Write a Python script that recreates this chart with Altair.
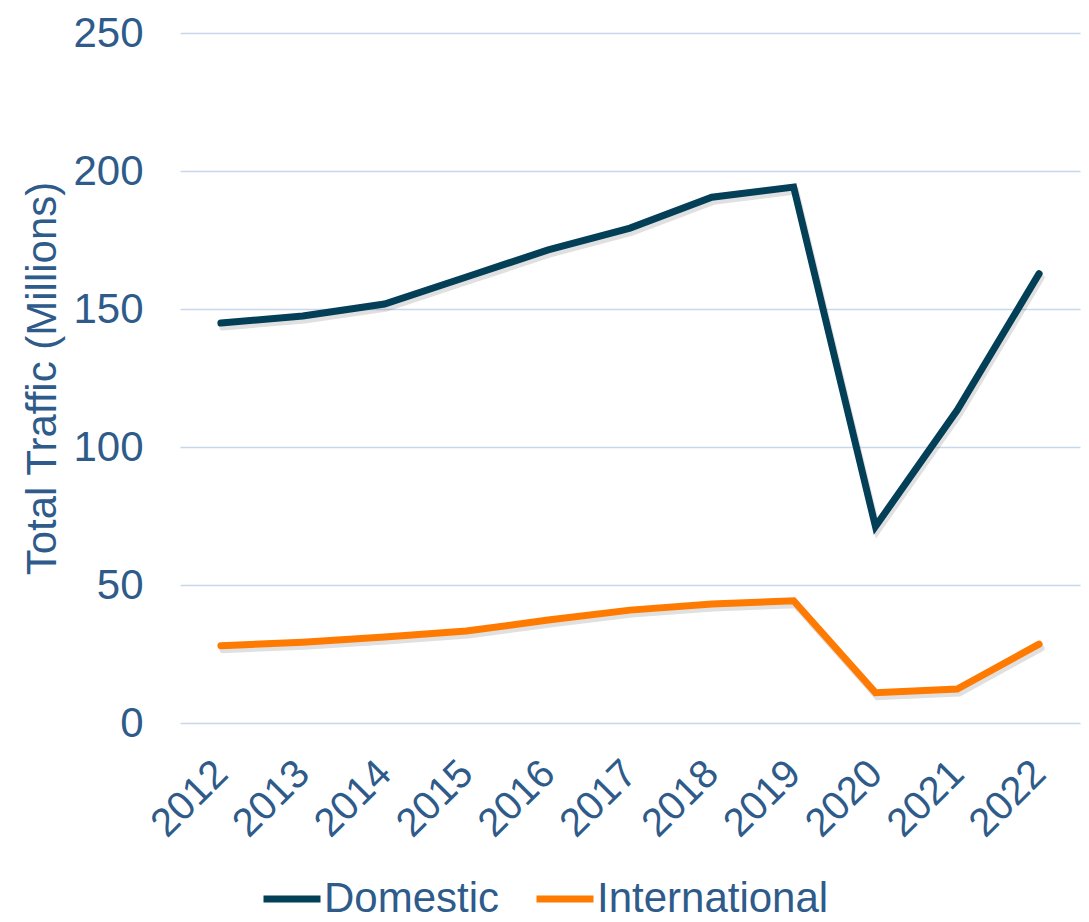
import altair as alt
import pandas as pd

years = ["2012", "2013", "2014", "2015", "2016", "2017", "2018", "2019", "2020", "2021", "2022"]
domestic = [144.9, 147.5, 151.8, 161.6, 171.4, 179.3, 190.5, 194.2, 71.2, 113.4, 162.8]
international = [28.0, 29.3, 31.2, 33.3, 37.3, 40.9, 43.1, 44.3, 11.0, 12.3, 28.6]
series = ["Domestic", "International"]
colors = ["#033F57", "#FF7A00"]

rows = []
for y, d, i in zip(years, domestic, international):
    rows.append({"Year": y, "Series": series[0], "Value": d})
    rows.append({"Year": y, "Series": series[1], "Value": i})
df = pd.DataFrame(rows)

FONT = "Liberation Sans"
TXT = "#2E5B8A"

x = alt.X("Year:N", sort=years, title=None,
          scale=alt.Scale(type="point", padding=0.5),
          axis=alt.Axis(labelAngle=-45, labelAlign="right", labelBaseline="middle",
                        labelFontSize=40, labelColor=TXT, labelFont=FONT,
                        labelPadding=44, domain=False, ticks=False, grid=False))
y = alt.Y("Value:Q", title="Total Traffic (Millions)",
          scale=alt.Scale(domain=[0, 250], nice=False),
          axis=alt.Axis(values=[0, 50, 100, 150, 200, 250], labelFontSize=42, labelColor=TXT,
                        labelFont=FONT, labelPadding=37, titleFontSize=42, titleColor=TXT,
                        titleFont=FONT, titleFontWeight="normal", titlePadding=8,
                        domain=False, ticks=False, gridColor="#C8D8EC", gridWidth=1.5))

shadow = alt.Chart(df).mark_line(strokeWidth=7, color="#000000", opacity=0.12,
                                 xOffset=2, yOffset=4, strokeCap="round").encode(
    x=x, y=y, detail="Series:N")

lines = alt.Chart(df).mark_line(strokeWidth=7, strokeCap="round", strokeJoin="miter").encode(
    x=x, y=y,
    color=alt.Color("Series:N", scale=alt.Scale(domain=series, range=colors),
                    legend=alt.Legend(title=None, orient="none", legendX=80, legendY=834,
                                      direction="horizontal", symbolType="stroke",
                                      symbolSize=3249, symbolStrokeWidth=7,
                                      labelFontSize=42, labelColor=TXT, labelFont=FONT,
                                      labelOffset=0, columnPadding=22, labelLimit=400)))

chart = alt.layer(shadow, lines).properties(
    width=900, height=690,
    autosize=alt.AutoSizeParams(type="none"),
    padding={"left": 172, "top": 25, "right": 1, "bottom": 198},
).configure_view(stroke=None)

chart.save("out.html", embed_options={"renderer": "svg", "actions": False})
